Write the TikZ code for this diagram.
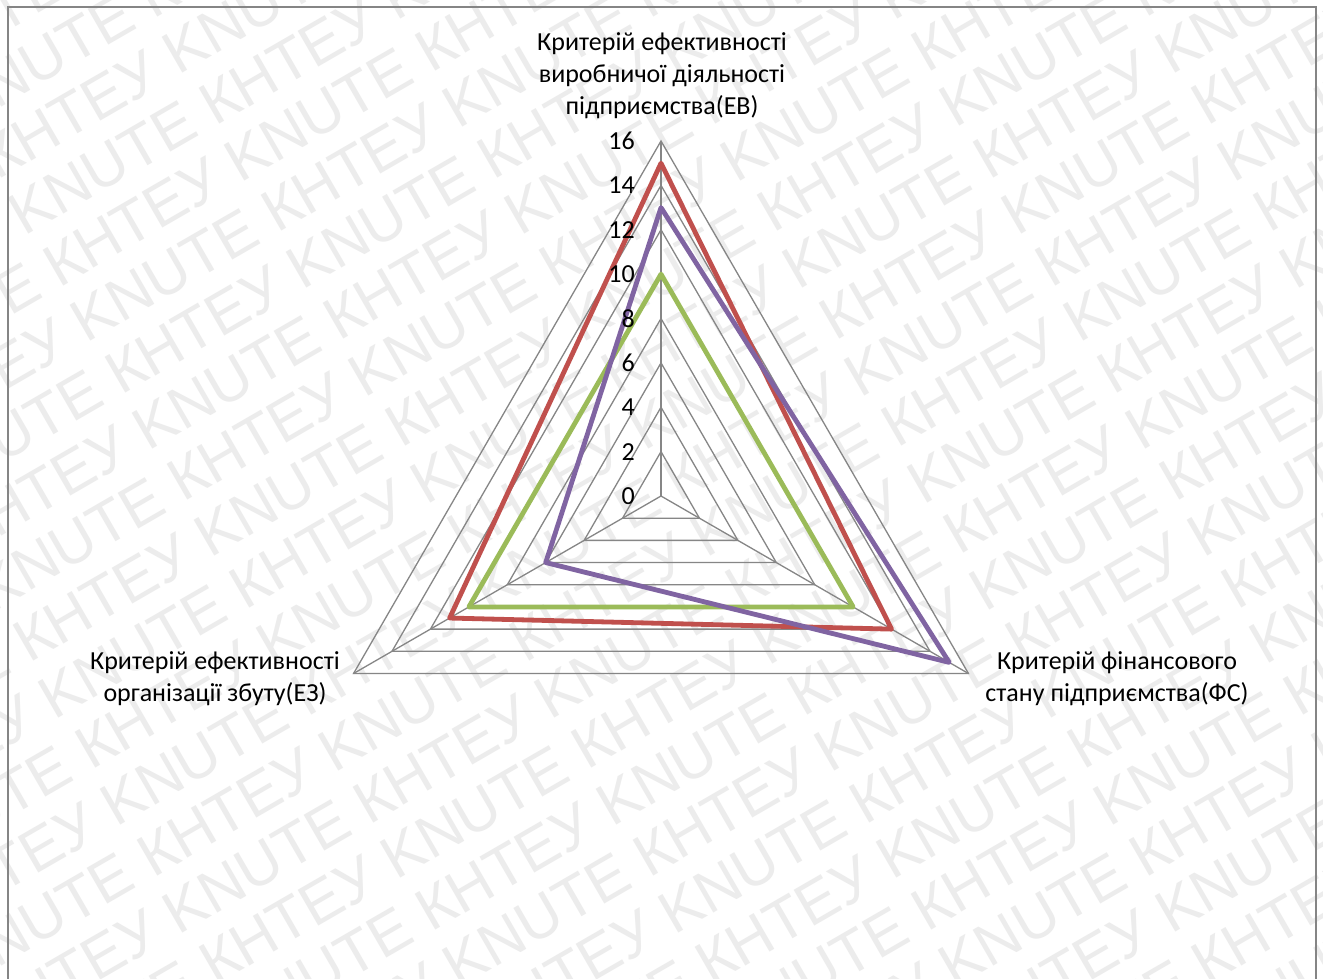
\documentclass[tikz,border=0pt]{standalone}
\usepackage{fontspec}
\setmainfont{Carlito}
\newfontfamily\wmfont{Liberation Sans}
\definecolor{gridgray}{HTML}{868686}
\definecolor{framegray}{HTML}{858585}
\definecolor{wmgray}{HTML}{ECECEC}
\definecolor{sred}{HTML}{C0504D}
\definecolor{sgreen}{HTML}{9BBB59}
\definecolor{spurple}{HTML}{8064A2}
\begin{document}
\begin{tikzpicture}[x=1pt,y=1pt,
  gridline/.style={draw=gridgray,line width=1.3pt},
  series/.style={line width=4.8pt,line join=round},
  lbl/.style={font=\fontsize{26}{32}\selectfont,align=center,inner sep=0pt},
  ticklbl/.style={font=\fontsize{26}{32}\selectfont,anchor=east,inner sep=0pt},
  wm/.style={font=\wmfont\fontsize{60}{60}\selectfont,text=wmgray,anchor=west,inner sep=0pt,transform shape}]
\useasboundingbox (0,0) rectangle (1323,-979);
\fill[white] (0,0) rectangle (1323,-979);
\begin{scope}
\clip (0,0) rectangle (1323,-979);
\begin{scope}[shift={(661,-490)},rotate=30]
\foreach \k in {-16,...,16}{
  \pgfmathsetmacro\off{-1500+216*mod(\k+16,2)}
  \node[wm] (wm\k) at (\off,\k*62) {KNUTE КНТЕУ KNUTE КНТЕУ KNUTE КНТЕУ KNUTE КНТЕУ KNUTE КНТЕУ KNUTE КНТЕУ KNUTE КНТЕУ};
}
\end{scope}
\draw[framegray,line width=1.8pt] (8,-1000) -- (8,-7) -- (1316,-7) -- (1316,-1000);
\end{scope}
\def\u{22.1875}
\begin{scope}[shift={(661,-496)}]
\foreach \l in {2,4,...,16}{
  \draw[gridline] (90:{\l*\u}) -- (-30:{\l*\u}) -- (210:{\l*\u}) -- cycle;
}
\coordinate (c) at (0,0);
\coordinate (vEB) at (90:{16*\u});
\coordinate (vFS) at (-30:{16*\u});
\coordinate (vEZ) at (210:{16*\u});
\draw[gridline] (c) -- (vEB);
\draw[gridline] (c) -- (vFS);
\draw[gridline] (c) -- (vEZ);
\draw[series,sgreen] (90:{10*\u}) -- (-30:{10*\u}) -- (210:{10*\u}) -- cycle;
\draw[series,sred] (90:{15*\u}) -- (-30:{12*\u}) -- (210:{11*\u}) -- cycle;
\draw[series,spurple] (90:{13*\u}) -- (-30:{15*\u}) -- (210:{6*\u}) -- cycle;
\foreach \l in {0,2,...,16}{
  \node[ticklbl] (t\l) at (-26,{\l*\u}) {\l};
}
\end{scope}
\node[lbl] (lEB) at (662,-76) {Критерій ефективності\\виробничої діяльності\\підприємства(ЕВ)};
\node[lbl] (lEZ) at (215,-679) {Критерій ефективності\\організації збуту(ЕЗ)};
\node[lbl] (lFS) at (1117,-679) {Критерій фінансового\\стану підприємства(ФС)};
\end{tikzpicture}
\end{document}
